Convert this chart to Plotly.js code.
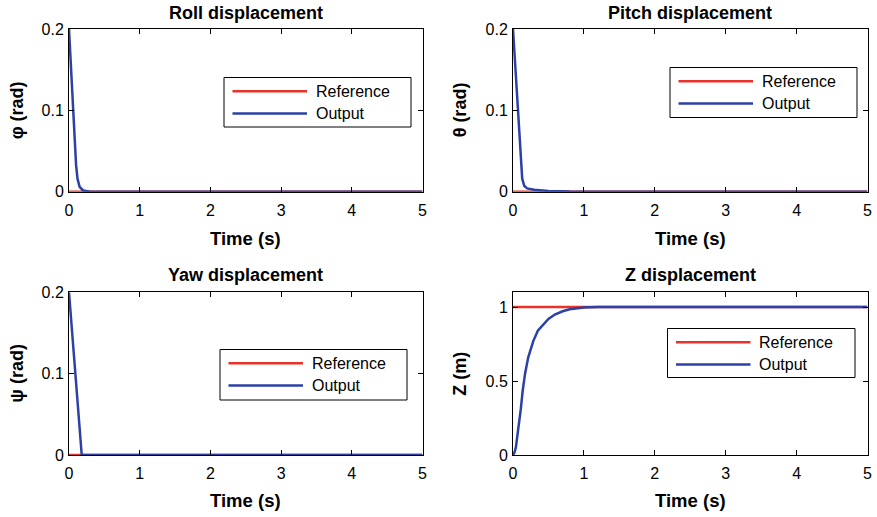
<!DOCTYPE html>
<html>
<head>
<meta charset="utf-8">
<script src="https://cdn.plot.ly/plotly-3.0.1.min.js"></script>
<style>html,body{margin:0;padding:0;background:#fff;}#chart{width:877px;height:517px;}</style>
</head>
<body>
<div id="chart"></div>
<script>
// ---- data ----
var tRef = [0, 5];
var refZero = [0, 0];
var refOne = [1, 1];

var tRoll = [0, 0.02, 0.04, 0.06, 0.08, 0.1, 0.12, 0.15, 0.2, 0.3, 5];
var rollOut = [0.2, 0.165, 0.13, 0.1, 0.06, 0.033, 0.016, 0.006, 0.0015, 0, 0];

var tPitch = [0, 0.02, 0.04, 0.066, 0.1, 0.13, 0.16, 0.2, 0.3, 0.5, 0.8, 5];
var pitchOut = [0.2, 0.17, 0.14, 0.1, 0.047, 0.016, 0.007, 0.004, 0.0025, 0.001, 0.0002, 0];

var tYaw = [0, 0.18, 5];
var yawOut = [0.2, 0, 0];

var tZ = [0, 0.02, 0.04, 0.06, 0.085, 0.11, 0.137, 0.17, 0.215, 0.286, 0.35, 0.427, 0.5, 0.59, 0.7, 0.8, 0.87, 1.0, 1.2, 5];
var zOut = [0, 0.015, 0.05, 0.12, 0.213, 0.31, 0.436, 0.55, 0.66, 0.77, 0.84, 0.884, 0.92, 0.95, 0.972, 0.985, 0.99, 0.997, 1, 1];

var xTickVals = [0, 1, 2, 3, 4, 5];
var xTickText = ['0', '1', '2', '3', '4', '5'];
var angTickVals = [0, 0.1, 0.2];
var angTickText = ['0', '0.1', '0.2'];
var zTickVals = [0, 0.5, 1];
var zTickText = ['0', '0.5', '1'];

var titles = ['Roll displacement', 'Pitch displacement', 'Yaw displacement', 'Z displacement'];
var yTitles = ['\u03c6 (rad)', '\u03b8 (rad)', '\u03c8 (rad)', 'Z (m)'];
var xTitle = 'Time (s)';
var seriesNames = ['Reference', 'Output'];

// ---- layout helpers ----
var W = 877, H = 517;
function px(x) { return x / W; }
function py(y) { return 1 - y / H; }
var RED = '#e8322b', BLUE = '#2c40a6';
var FONT = 'Liberation Sans, Arial, Helvetica, sans-serif';

var cols = [[69, 422.5], [513, 867.5]];
var rows = [[29, 191.7], [292.3, 455]];

function xAxis(c, anchor) {
  return {
    domain: [px(cols[c][0]), px(cols[c][1])], anchor: anchor,
    range: [0, 5], tickvals: xTickVals, ticktext: xTickText,
    ticks: 'inside', ticklen: 5, tickcolor: '#000', tickwidth: 1,
    showline: true, linecolor: '#000', linewidth: 1, mirror: 'ticks',
    showgrid: false, zeroline: false, fixedrange: true, ticklabelstandoff: 4,
    tickfont: {family: FONT, size: 16, color: '#000'}
  };
}
function yAxis(r, anchor, range, tv, tt) {
  return {
    domain: [py(rows[r][1]), py(rows[r][0])], anchor: anchor,
    range: range, tickvals: tv, ticktext: tt,
    ticks: 'inside', ticklen: 5, tickcolor: '#000', tickwidth: 1,
    showline: true, linecolor: '#000', linewidth: 1, mirror: 'ticks',
    showgrid: false, zeroline: false, fixedrange: true, ticklabelstandoff: 1,
    tickfont: {family: FONT, size: 16, color: '#000'}
  };
}

var outT = [tRoll, tPitch, tYaw, tZ];
var outV = [rollOut, pitchOut, yawOut, zOut];
var refV = [refZero, refZero, refZero, refOne];
var axIds = [['x', 'y'], ['x2', 'y2'], ['x3', 'y3'], ['x4', 'y4']];

var data = [];
for (var i = 0; i < 4; i++) {
  data.push({x: tRef, y: refV[i], type: 'scatter', mode: 'lines', name: seriesNames[0],
    xaxis: axIds[i][0], yaxis: axIds[i][1], showlegend: false,
    line: {color: RED, width: 2.5}});
  data.push({x: outT[i], y: outV[i], type: 'scatter', mode: 'lines', name: seriesNames[1],
    xaxis: axIds[i][0], yaxis: axIds[i][1], showlegend: false,
    line: {color: BLUE, width: 2.5}});
}

var annotations = [];
var shapes = [];
var titleY = [13.5, 275];
var xTitleY = [238, 500];
var yTitleX = [17, 460];

for (var k = 0; k < 4; k++) {
  var c = k % 2, r = Math.floor(k / 2);
  var cx = (cols[c][0] + cols[c][1]) / 2;
  var cy = (rows[r][0] + rows[r][1]) / 2;
  annotations.push({text: '<b>' + titles[k] + '</b>', xref: 'paper', yref: 'paper',
    x: px(cx), y: py(titleY[r]), xanchor: 'center', yanchor: 'middle', showarrow: false,
    font: {family: FONT, size: 18, color: '#000'}});
  annotations.push({text: '<b>' + xTitle + '</b>', xref: 'paper', yref: 'paper',
    x: px(cx), y: py(xTitleY[r]), xanchor: 'center', yanchor: 'middle', showarrow: false,
    font: {family: FONT, size: 18.5, color: '#000'}});
  annotations.push({text: '<b>' + yTitles[k] + '</b>', xref: 'paper', yref: 'paper',
    x: px(yTitleX[c]), y: py(cy), xanchor: 'center', yanchor: 'middle', showarrow: false,
    textangle: -90, font: {family: FONT, size: 18, color: '#000'}});
}

// legend boxes (pixel positions of box: left, top, right, bottom)
var legBoxes = [[224, 77.5, 411, 127], [670, 67.5, 857, 117.5], [220, 349.5, 407, 400], [667.5, 328.5, 855, 377.5]];
for (var m = 0; m < 4; m++) {
  var b = legBoxes[m];
  shapes.push({type: 'rect', xref: 'paper', yref: 'paper',
    x0: px(b[0]), x1: px(b[2]), y0: py(b[3]), y1: py(b[1]),
    line: {color: '#000', width: 1}, fillcolor: '#fff', layer: 'above'});
  var ys = [b[1] + 13.8, b[1] + 36];
  var cl = [RED, BLUE];
  for (var j = 0; j < 2; j++) {
    shapes.push({type: 'line', xref: 'paper', yref: 'paper',
      x0: px(b[0] + 8.5), x1: px(b[0] + 83), y0: py(ys[j]), y1: py(ys[j]),
      line: {color: cl[j], width: 2.5}, layer: 'above'});
    annotations.push({text: seriesNames[j], xref: 'paper', yref: 'paper',
      x: px(b[0] + 89.5), y: py(ys[j]), xanchor: 'left', yanchor: 'middle', showarrow: false,
      font: {family: FONT, size: 16, color: '#000'}});
  }
}

var layout = {
  width: W, height: H,
  margin: {l: 0, r: 0, t: 0, b: 0},
  paper_bgcolor: '#fff', plot_bgcolor: '#fff',
  showlegend: false,
  xaxis: xAxis(0, 'y'), yaxis: yAxis(0, 'x', [0, 0.2], angTickVals, angTickText),
  xaxis2: xAxis(1, 'y2'), yaxis2: yAxis(0, 'x2', [0, 0.2], angTickVals, angTickText),
  xaxis3: xAxis(0, 'y3'), yaxis3: yAxis(1, 'x3', [0, 0.2], angTickVals, angTickText),
  xaxis4: xAxis(1, 'y4'), yaxis4: yAxis(1, 'x4', [0, 1.1], zTickVals, zTickText),
  annotations: annotations,
  shapes: shapes
};

Plotly.newPlot('chart', data, layout, {displayModeBar: false, staticPlot: true});
</script>
</body>
</html>
